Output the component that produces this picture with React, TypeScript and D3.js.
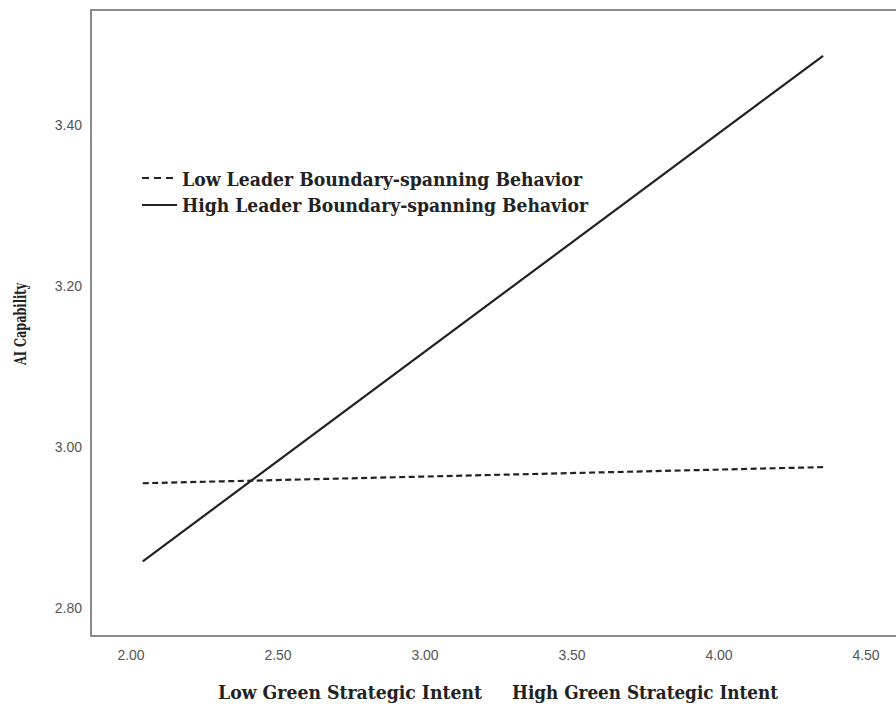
import React from "react";
import * as d3 from "d3";

const xTicks = [2.0, 2.5, 3.0, 3.5, 4.0, 4.5];
const yTicks = [2.8, 3.0, 3.2, 3.4];
const seriesNames = [
  "Low Leader Boundary-spanning Behavior",
  "High Leader Boundary-spanning Behavior",
];
const xValues = [2.04, 4.354];
const lowValues = [2.955, 2.975];
const highValues = [2.858, 3.486];
const xLabels = ["Low Green Strategic Intent", "High Green Strategic Intent"];
const yTitle = "AI Capability";

const W = 896;
const H = 706;
const left = 91;
const top = 10;
const bottom = 636;

export default function App() {
  const x = d3.scaleLinear().domain([2.0, 4.5]).range([131, 866]);
  const y = d3.scaleLinear().domain([2.8, 3.4]).range([608, 125]);
  const line = d3
    .line<[number, number]>()
    .x((d) => x(d[0]))
    .y((d) => y(d[1]));
  const lowPts: [number, number][] = xValues.map((v, i) => [v, lowValues[i]]);
  const highPts: [number, number][] = xValues.map((v, i) => [v, highValues[i]]);
  const serif = "'DejaVu Serif', 'Liberation Serif', serif";
  const sans = "'Liberation Sans', Arial, sans-serif";

  return (
    <svg
      width={W}
      height={H}
      style={{ position: "absolute", left: 0, top: 0, background: "#fff" }}
    >
      <rect x={0} y={0} width={W} height={H} fill="#fff" />
      {/* frame */}
      <path
        d={`M${W},${top}H${left}V${bottom}H${W}`}
        fill="none"
        stroke="#8a8a8a"
        strokeWidth={2}
      />
      {/* y ticks */}
      {yTicks.map((t) => (
        <text
          key={t}
          x={82}
          y={y(t)}
          dy="0.35em"
          textAnchor="end"
          fontFamily={sans}
          fontSize={14}
          fill="#555"
        >
          {t.toFixed(2)}
        </text>
      ))}
      {/* x ticks */}
      {xTicks.map((t) => (
        <text
          key={t}
          x={x(t)}
          y={655}
          dy="0.35em"
          textAnchor="middle"
          fontFamily={sans}
          fontSize={14}
          fill="#555"
        >
          {t.toFixed(2)}
        </text>
      ))}
      {/* lines */}
      <path
        d={line(lowPts) || ""}
        fill="none"
        stroke="#222"
        strokeWidth={2.2}
        strokeDasharray="6,3.5"
      />
      <path d={line(highPts) || ""} fill="none" stroke="#222" strokeWidth={2.2} />
      {/* legend */}
      <line
        x1={142}
        x2={178}
        y1={178}
        y2={178}
        stroke="#222"
        strokeWidth={2.2}
        strokeDasharray="7,5"
      />
      <line x1={142} x2={177} y1={205} y2={205} stroke="#222" strokeWidth={2.2} />
      <text
        x={182}
        y={186}
        fontFamily={serif}
        fontWeight="bold"
        fontSize={18}
        fill="#222"
        textLength={400}
        lengthAdjust="spacingAndGlyphs"
      >
        {seriesNames[0]}
      </text>
      <text
        x={182}
        y={212}
        fontFamily={serif}
        fontWeight="bold"
        fontSize={18}
        fill="#222"
        textLength={406}
        lengthAdjust="spacingAndGlyphs"
      >
        {seriesNames[1]}
      </text>
      {/* x axis labels */}
      <text
        x={218}
        y={699}
        fontFamily={serif}
        fontWeight="bold"
        fontSize={18}
        fill="#222"
        textLength={264}
        lengthAdjust="spacingAndGlyphs"
      >
        {xLabels[0]}
      </text>
      <text
        x={512}
        y={699}
        fontFamily={serif}
        fontWeight="bold"
        fontSize={18}
        fill="#222"
        textLength={266}
        lengthAdjust="spacingAndGlyphs"
      >
        {xLabels[1]}
      </text>
      {/* y title */}
      <text
        transform="translate(26,324) rotate(-90)"
        textAnchor="middle"
        fontFamily={serif}
        fontWeight="bold"
        fontSize={16}
        fill="#222"
        textLength={82}
        lengthAdjust="spacingAndGlyphs"
      >
        {yTitle}
      </text>
    </svg>
  );
}
